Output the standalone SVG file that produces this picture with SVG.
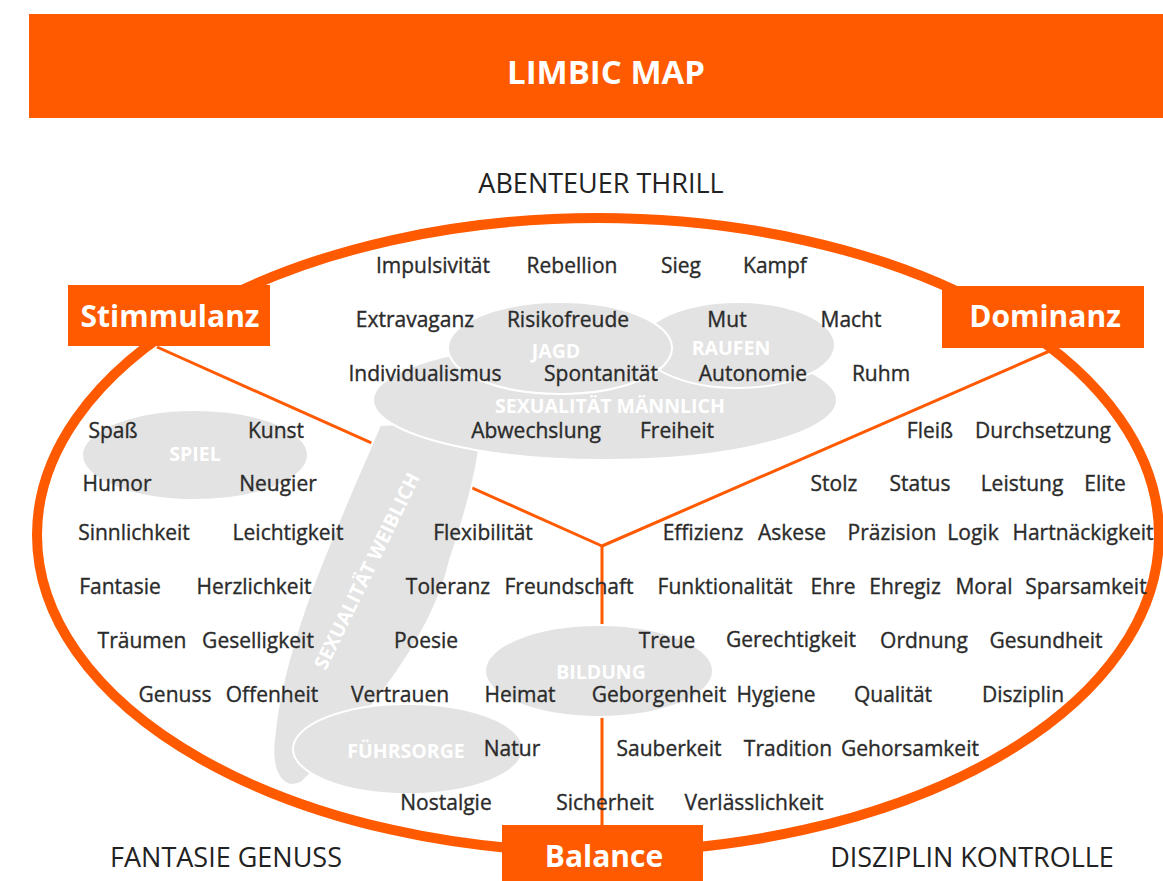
<svg xmlns="http://www.w3.org/2000/svg" width="1163" height="881" viewBox="0 0 1163 881">
  <style>
    .bar { fill: #FF5A00; }
    .bar-text { fill: #ffffff; font-family: "Open Sans", "Liberation Sans", sans-serif; font-weight: 700; text-anchor: middle; }
    .axis { fill: #222222; font-family: "Open Sans", "Liberation Sans", sans-serif; font-size: 27px; text-anchor: middle; }
    .ring { fill: none; stroke: #FF5A00; stroke-width: 10; }
    .link { fill: none; stroke: #FF5A00; stroke-width: 3; }
    .zone { fill: #e3e3e3; stroke: #ffffff; stroke-width: 2; }
    .zone-label { fill: #ffffff; font-family: "Open Sans", "Liberation Sans", sans-serif; font-weight: 700; font-size: 19.5px; text-anchor: middle; }
    .w { fill: #2b2b2b; stroke: #2b2b2b; stroke-width: 0.35; font-family: "Open Sans", "Liberation Sans", sans-serif; font-size: 21px; text-anchor: middle; }
  </style>

  <!-- title bar -->
  <g id="header">
    <rect class="bar" x="29" y="14" width="1134" height="104"/>
    <text class="bar-text" x="606" y="84" font-size="33">LIMBIC MAP</text>
  </g>

  <!-- axis captions outside the ring -->
  <g id="captions">
    <text class="axis" x="601" y="193">ABENTEUER THRILL</text>
    <text class="axis" x="226" y="867">FANTASIE GENUSS</text>
    <text class="axis" x="972" y="867">DISZIPLIN KONTROLLE</text>
  </g>

  <!-- outer ring -->
  <g id="ring">
    <ellipse class="ring" cx="598" cy="535" rx="561" ry="317"/>
  </g>

  <!-- connectors from the three poles to the centre -->
  <g id="connectors">
    <line class="link" x1="157" y1="347" x2="602" y2="546"/>
    <line class="link" x1="1052" y1="350" x2="602" y2="546"/>
    <line class="link" x1="602" y1="546" x2="602" y2="826"/>
  </g>

  <!-- grey emotion zones -->
  <g id="zone-weiblich">
    <path class="zone" d="M 380 425 C 340 520, 282 640, 274 740 C 270 775, 285 792, 302 782 C 345 740, 430 650, 450 560 C 470 500, 480 460, 482 420 Z"/>
    <text class="zone-label" transform="translate(373,574) rotate(-64)">SEXUALITÄT WEIBLICH</text>
  </g>
  <g id="zone-maennlich">
    <ellipse class="zone" cx="605" cy="400" rx="232" ry="60"/>
    <text class="zone-label" x="610" y="413">SEXUALITÄT MÄNNLICH</text>
  </g>
  <g id="zone-raufen">
    <ellipse class="zone" cx="738" cy="345" rx="97" ry="43"/>
    <text class="zone-label" x="731" y="355">RAUFEN</text>
  </g>
  <g id="zone-jagd">
    <ellipse class="zone" cx="560" cy="348" rx="112" ry="46"/>
    <text class="zone-label" x="556" y="358">JAGD</text>
  </g>
  <g id="zone-spiel">
    <ellipse class="zone" cx="195" cy="455" rx="113" ry="45"/>
    <text class="zone-label" x="195" y="461">SPIEL</text>
  </g>
  <g id="zone-bildung">
    <ellipse class="zone" cx="599" cy="671" rx="114" ry="46"/>
    <text class="zone-label" x="601" y="679">BILDUNG</text>
  </g>
  <g id="zone-fuehrsorge">
    <ellipse class="zone" cx="408" cy="749" rx="115" ry="45"/>
    <text class="zone-label" x="406" y="758">FÜHRSORGE</text>
  </g>

  <!-- pole boxes -->
  <g id="pole-stimmulanz">
    <rect class="bar" x="68" y="285" width="202" height="61"/>
    <text class="bar-text" x="170" y="327" font-size="30">Stimmulanz</text>
  </g>
  <g id="pole-dominanz">
    <rect class="bar" x="942" y="286" width="202" height="62"/>
    <text class="bar-text" x="1045" y="327" font-size="30">Dominanz</text>
  </g>
  <g id="pole-balance">
    <rect class="bar" x="502" y="825" width="201" height="56"/>
    <text class="bar-text" x="604" y="867" font-size="30">Balance</text>
  </g>

  <!-- value words -->
  <g id="words">
    <text class="w" x="433" y="273">Impulsivität</text>
    <text class="w" x="572" y="273">Rebellion</text>
    <text class="w" x="681" y="273">Sieg</text>
    <text class="w" x="775" y="273">Kampf</text>

    <text class="w" x="415" y="327">Extravaganz</text>
    <text class="w" x="568" y="327">Risikofreude</text>
    <text class="w" x="727" y="327">Mut</text>
    <text class="w" x="851" y="327">Macht</text>

    <text class="w" x="425" y="381">Individualismus</text>
    <text class="w" x="601" y="381">Spontanität</text>
    <text class="w" x="753" y="381">Autonomie</text>
    <text class="w" x="881" y="381">Ruhm</text>

    <text class="w" x="113" y="438">Spaß</text>
    <text class="w" x="276" y="438">Kunst</text>
    <text class="w" x="536" y="438">Abwechslung</text>
    <text class="w" x="677" y="438">Freiheit</text>
    <text class="w" x="930" y="438">Fleiß</text>
    <text class="w" x="1043" y="438">Durchsetzung</text>

    <text class="w" x="117" y="491">Humor</text>
    <text class="w" x="278" y="491">Neugier</text>
    <text class="w" x="834" y="491">Stolz</text>
    <text class="w" x="920" y="491">Status</text>
    <text class="w" x="1022" y="491">Leistung</text>
    <text class="w" x="1105" y="491">Elite</text>

    <text class="w" x="134" y="540">Sinnlichkeit</text>
    <text class="w" x="288" y="540">Leichtigkeit</text>
    <text class="w" x="483" y="540">Flexibilität</text>
    <text class="w" x="703" y="540">Effizienz</text>
    <text class="w" x="792" y="540">Askese</text>
    <text class="w" x="892" y="540">Präzision</text>
    <text class="w" x="973" y="540">Logik</text>
    <text class="w" x="1083" y="540">Hartnäckigkeit</text>

    <text class="w" x="120" y="594">Fantasie</text>
    <text class="w" x="254" y="594">Herzlichkeit</text>
    <text class="w" x="448" y="594">Toleranz</text>
    <text class="w" x="569" y="594">Freundschaft</text>
    <text class="w" x="725" y="594">Funktionalität</text>
    <text class="w" x="833" y="594">Ehre</text>
    <text class="w" x="905" y="594">Ehregiz</text>
    <text class="w" x="984" y="594">Moral</text>
    <text class="w" x="1086" y="594">Sparsamkeit</text>

    <text class="w" x="142" y="648">Träumen</text>
    <text class="w" x="258" y="648">Geselligkeit</text>
    <text class="w" x="426" y="648">Poesie</text>
    <text class="w" x="667" y="648">Treue</text>
    <text class="w" x="791" y="647">Gerechtigkeit</text>
    <text class="w" x="924" y="648">Ordnung</text>
    <text class="w" x="1046" y="648">Gesundheit</text>

    <text class="w" x="175" y="702">Genuss</text>
    <text class="w" x="272" y="702">Offenheit</text>
    <text class="w" x="400" y="702">Vertrauen</text>
    <text class="w" x="520" y="702">Heimat</text>
    <text class="w" x="659" y="702">Geborgenheit</text>
    <text class="w" x="776" y="702">Hygiene</text>
    <text class="w" x="893" y="702">Qualität</text>
    <text class="w" x="1023" y="702">Disziplin</text>

    <text class="w" x="512" y="756">Natur</text>
    <text class="w" x="669" y="756">Sauberkeit</text>
    <text class="w" x="788" y="756">Tradition</text>
    <text class="w" x="910" y="756">Gehorsamkeit</text>

    <text class="w" x="446" y="810">Nostalgie</text>
    <text class="w" x="605" y="810">Sicherheit</text>
    <text class="w" x="754" y="810">Verlässlichkeit</text>
  </g>
</svg>
